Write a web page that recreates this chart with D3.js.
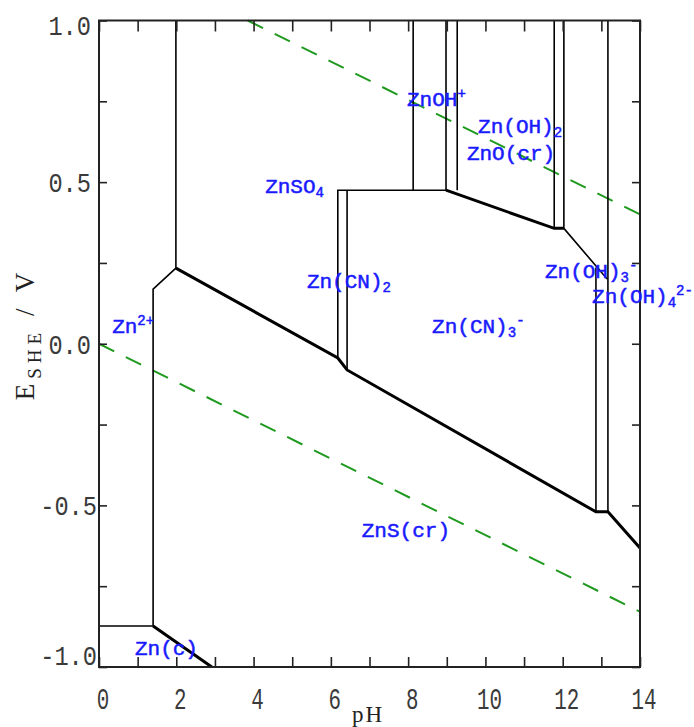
<!doctype html>
<html lang="en">
<head>
<meta charset="UTF-8">
<title>Zn Pourbaix</title>
<script src="https://d3js.org/d3.v7.min.js"></script>
<style>
  body { margin: 0; background: #fff; }
</style>
</head>
<body>
<div id="chart-area"></div>
<script>
// axis ticks
const xTickLabels = [0, 2, 4, 6, 8, 10, 12, 14];
const xMinorTicks = [0, 1, 2, 3, 4, 5, 6, 7, 8, 9, 10, 11, 12, 13, 14];
const yTickValues = [1.0, 0.5, 0.0, -0.5, -1.0];
const yTickLabels = ['1.0', '0.5', '0.0', '-0.5', '-1.0'];
const yMinorTicks = [-1, -0.75, -0.5, -0.25, 0, 0.25, 0.5, 0.75, 1];

// predominance boundaries, [pH, E/V]
const thinLines = [
    [[1.99, 1.0], [1.99, 0.234]],
    [[1.99, 0.234], [1.40, 0.169], [1.40, -0.873]],
    [[0, -0.873], [1.40, -0.873]],
    [[6.18, -0.044], [6.18, 0.475], [8.98, 0.475]],
    [[6.42, -0.081], [6.42, 0.475]],
    [[8.13, 1.0], [8.13, 0.475]],
    [[8.98, 1.0], [8.98, 0.475]],
    [[9.27, 1.0], [9.27, 0.475]],
    [[11.78, 1.0], [11.78, 0.357]],
    [[12.03, 1.0], [12.03, 0.357], [13.15, 0.200]],
    [[12.86, 0.236], [12.86, -0.520]],
    [[13.17, 1.0], [13.17, -0.520]]
];
const thickLines = [
    [[1.99, 0.234], [6.18, -0.044], [6.42, -0.081], [12.86, -0.520], [13.17, -0.520], [14, -0.632]],
    [[8.98, 0.475], [11.78, 0.357], [12.03, 0.357]],
    [[1.40, -0.873], [2.92, -1.0]]
];

// water stability lines
const waterLines = [
    [[3.85, 1.0], [14, 0.40]],
    [[0, 0.0], [14, -0.829]]
];

// species labels: pieces of [text, 'n' | 'sub' | 'sup'], anchored at [pH, E]
const labelText = [
    [['ZnOH', 'n'], ['+', 'sup']],
    [['Zn(OH)', 'n'], ['2', 'sub']],
    [['ZnO(cr)', 'n']],
    [['ZnSO', 'n'], ['4', 'sub']],
    [['Zn(CN)', 'n'], ['2', 'sub']],
    [['Zn(CN)', 'n'], ['3', 'sub'], ['-', 'sup']],
    [['Zn(OH)', 'n'], ['3', 'sub'], ['-', 'sup']],
    [['Zn(OH)', 'n'], ['4', 'sub'], ['2-', 'sup']],
    [['Zn', 'n'], ['2+', 'sup']],
    [['ZnS(cr)', 'n']],
    [['Zn(c)', 'n']]
];
const labelPH = [7.97, 9.81, 9.52, 4.30, 5.38, 8.62, 11.54, 12.76, 0.34, 6.80, 0.93];
const labelE  = [0.735, 0.652, 0.568, 0.466, 0.172, 0.033, 0.203, 0.126, 0.033, -0.598, -0.963];

const W = 694, H = 727;

const x = d3.scaleLinear().domain([0, 14]).range([99, 640]);
const y = d3.scaleLinear().domain([-1, 1]).range([667, 20.5]);

const svg = d3.select('#chart-area')
    .append('svg')
    .attr('width', W)
    .attr('height', H)
    .style('background', '#fff');

const line = d3.line().x(d => x(d[0])).y(d => y(d[1]));

// water lines (green dashed)
svg.selectAll('path.water')
    .data(waterLines)
    .enter()
    .append('path')
    .attr('class', 'water')
    .attr('d', line)
    .attr('fill', 'none')
    .attr('stroke', '#1f9a1f')
    .attr('stroke-width', 2)
    .attr('stroke-dasharray', '17 13');

svg.selectAll('path.thin')
    .data(thinLines)
    .enter()
    .append('path')
    .attr('class', 'thin')
    .attr('d', line)
    .attr('fill', 'none')
    .attr('stroke', '#000')
    .attr('stroke-width', 1.6);

svg.selectAll('path.thick')
    .data(thickLines)
    .enter()
    .append('path')
    .attr('class', 'thick')
    .attr('d', line)
    .attr('fill', 'none')
    .attr('stroke', '#000')
    .attr('stroke-width', 3);

// ticks, all pointing inward
function ticks(axis, tx, ty) {
    const g = svg.append('g')
        .attr('transform', `translate(${tx},${ty})`)
        .call(axis.tickFormat(''));
    g.select('.domain').remove();
    g.selectAll('line').attr('stroke', '#222').attr('stroke-width', 1.6);
}
ticks(d3.axisBottom(x).tickValues(xMinorTicks).tickSize(-10), 0, y(-1));
ticks(d3.axisTop(x).tickValues(xMinorTicks).tickSize(-11), 0, y(1));
ticks(d3.axisLeft(y).tickValues(yMinorTicks).tickSize(-8), x(0), 0);
ticks(d3.axisRight(y).tickValues(yMinorTicks).tickSize(-8), x(14), 0);

// frame
svg.append('rect')
    .attr('x', x(0))
    .attr('y', y(1))
    .attr('width', x(14) - x(0))
    .attr('height', y(-1) - y(1))
    .attr('fill', 'none')
    .attr('stroke', '#222')
    .attr('stroke-width', 2);

// tick labels
svg.selectAll('text.xlab')
    .data(xTickLabels)
    .enter()
    .append('text')
    .attr('class', 'xlab')
    .attr('x', d => x(d) + 4)
    .attr('y', 709)
    .attr('text-anchor', 'middle')
    .attr('textLength', d => String(d).length * 12.5)
    .attr('lengthAdjust', 'spacingAndGlyphs')
    .style('font-family', 'Liberation Mono')
    .style('font-size', '29px')
    .style('fill', '#3a3a3a')
    .text(d => d);

svg.selectAll('text.ylab')
    .data(yTickValues)
    .enter()
    .append('text')
    .attr('class', 'ylab')
    .attr('x', d => d < 0 ? 97 : 91)
    .attr('y', d => y(d) + 10 + (d === 1 ? 4 : d === -1 ? -12 : 0))
    .attr('text-anchor', 'end')
    .attr('textLength', (d, i) => yTickLabels[i].length * 14.2)
    .attr('lengthAdjust', 'spacingAndGlyphs')
    .style('font-family', 'Liberation Mono')
    .style('font-size', '28px')
    .style('fill', '#3a3a3a')
    .text((d, i) => yTickLabels[i]);

// axis titles
svg.append('text')
    .attr('x', 368)
    .attr('y', 722)
    .attr('text-anchor', 'middle')
    .style('font-family', 'Liberation Serif')
    .style('font-size', '23px')
    .style('letter-spacing', '2px')
    .style('fill', '#222')
    .text('pH');

const yt = svg.append('text')
    .attr('transform', 'translate(34,334) rotate(-90)')
    .attr('text-anchor', 'middle')
    .style('font-family', 'Liberation Serif')
    .style('font-size', '27px')
    .style('letter-spacing', '5px')
    .style('fill', '#222');
yt.append('tspan').text('E');
yt.append('tspan').attr('dy', 7).style('font-size', '19px').text('SHE');
yt.append('tspan').attr('dy', -7).text(' / V');

// species labels
const shift = { n: 0, sub: 4, sup: -8 };
labelText.forEach((parts, i) => {
    const t = svg.append('text')
        .attr('x', x(labelPH[i]))
        .attr('y', y(labelE[i]))
        .style('font-family', 'Liberation Mono')
        .style('font-size', '21px')
        .style('stroke', '#1a1aff')
        .style('stroke-width', 0.5)
        .style('fill', '#1a1aff');
    let cur = 0;
    parts.forEach(([s, k]) => {
        t.append('tspan')
            .attr('dy', shift[k] - cur)
            .style('font-size', k === 'n' ? '21px' : '14px')
            .text(s);
        cur = shift[k];
    });
});
</script>
</body>
</html>
